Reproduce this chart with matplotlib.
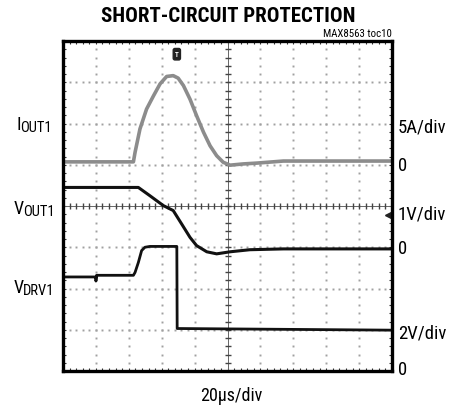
import numpy as np
import matplotlib
matplotlib.use("Agg")
import matplotlib.pyplot as plt
from matplotlib import font_manager as fm


def pick(cands):
    for c in cands:
        try:
            fm.findfont(fm.FontProperties(family=c), fallback_to_default=False)
            return c
        except ValueError:
            pass
    return 'DejaVu Sans'


narrow = pick(['Roboto Condensed', 'Archivo Narrow', 'Liberation Sans Narrow', 'Sofia Sans Condensed'])
plt.rcParams['font.family'] = [narrow, 'DejaVu Sans']

# traces, in scope divisions (x: 0..10, y: 0..8)
iout_x = [0, 1.0, 2.14, 2.19, 2.34, 2.54, 2.75, 2.95, 3.15, 3.35, 3.50, 3.66, 3.86,
          4.06, 4.27, 4.47, 4.67, 4.87, 5.08, 5.48, 5.89, 6.70, 10]
iout_y = [5.07, 5.07, 5.07, 5.30, 5.87, 6.35, 6.67, 6.96, 7.14, 7.16, 7.10, 6.92, 6.59,
          6.19, 5.79, 5.46, 5.22, 5.06, 4.99, 5.02, 5.04, 5.09, 5.09]

vout_x = [0, 2.29, 2.64, 3.05, 3.35, 3.61, 3.86, 4.06, 4.37, 4.67, 5.08, 5.68, 6.70, 10]
vout_y = [4.45, 4.45, 4.25, 4.01, 3.89, 3.56, 3.24, 3.04, 2.89, 2.84, 2.89, 2.94, 2.96, 2.96]

vdrv_x = [0, 0.98, 1.0, 1.0, 1.02, 2.14, 2.19, 2.29, 2.39, 2.49, 2.64, 3.46, 3.47, 10]
vdrv_y = [2.28, 2.28, 2.28, 2.18, 2.32, 2.32, 2.39, 2.63, 2.92, 3.00, 3.02, 3.02, 1.03, 0.99]

trig_x, trig_y = 3.46, 7.68
level_x, level_y = 9.88, 3.78

# (main letter, subscript, y of label in px)
left_labels = [("I", "OUT1", 125), ("V", "OUT1", 209), ("V", "DRV1", 288)]
right_labels = [("5A/div", 128), ("0", 166), ("1V/div", 215), ("0", 249), ("2V/div", 333), ("0", 370)]

W, H = 451, 406
fig = plt.figure(figsize=(W / 100, H / 100), dpi=100)
ax = fig.add_axes([63 / W, 34 / H, 329 / W, 330 / H])
ax.set_xlim(0, 10)
ax.set_ylim(0, 8)

# dotted graticule
for gx in range(1, 10):
    if gx == 5:
        continue
    yy = np.arange(0, 8.01, 0.2)
    ax.plot([gx] * len(yy), yy, ls='none', marker='s', ms=1.4, color='#a0a0a0', mew=0)
for gy in range(1, 8):
    if gy == 4:
        continue
    xx = np.arange(0, 10.01, 0.2)
    ax.plot(xx, [gy] * len(xx), ls='none', marker='s', ms=1.4, color='#a0a0a0', mew=0)

# center cross with ticks
ax.axvline(5, color='#666666', lw=0.7)
ax.axhline(4, color='#666666', lw=0.7)
ty = np.arange(0, 8.01, 0.2)
ax.plot([5] * len(ty), ty, ls='none', marker='_', ms=5, mew=1, color='#444444')
tx = np.arange(0, 10.01, 0.2)
ax.plot(tx, [4] * len(tx), ls='none', marker='|', ms=5, mew=1, color='#444444')

# traces
ax.plot(iout_x, iout_y, color='#8c8c8c', lw=2.6, solid_joinstyle='round')
ax.plot(vout_x, vout_y, color='#111111', lw=2.2, solid_joinstyle='round')
ax.plot(vdrv_x, vdrv_y, color='#111111', lw=2.0, solid_joinstyle='round')

# trigger markers
ax.text(trig_x, trig_y, "T", color='white', fontsize=5, fontweight='bold', ha='center', va='center',
        bbox=dict(boxstyle='round,pad=0.25', fc='#222222', ec='#222222'))
ax.plot([level_x], [level_y], marker='<', ms=5, color='#222222', ls='none')

ax.set_xticks(np.arange(0, 10.01, 0.2), minor=True)
ax.set_yticks(np.arange(0, 8.01, 0.2), minor=True)
ax.set_xticks([])
ax.set_yticks([])
ax.tick_params(which='minor', direction='in', length=2.5, width=0.8, color='#333333',
               top=True, right=True, labelbottom=False, labelleft=False)
for s in ax.spines.values():
    s.set_linewidth(2.4)


def px(x, y):
    return x / W, 1 - y / H


fig.text(*px(228, 17), "SHORT-CIRCUIT PROTECTION", ha='center', va='center',
         fontsize=15, fontweight='black')
fig.text(*px(392, 34), "MAX8563 toc10", ha='right', va='center', fontsize=7.8)

for big, small, y in left_labels:
    fig.text(*px(17 if big == "I" else 14, y), big, ha='left', va='center', fontsize=13)
    fig.text(*px(20.5 if big == "I" else 23, y + 3), small, ha='left', va='center', fontsize=10.5)

for txt, y in right_labels:
    fig.text(*px(398, y), txt, ha='left', va='center', fontsize=13.5)

fig.text(*px(231, 396), "20\u00b5s/div", ha='center', va='center', fontsize=13)

fig.savefig("out.png", dpi=100)
